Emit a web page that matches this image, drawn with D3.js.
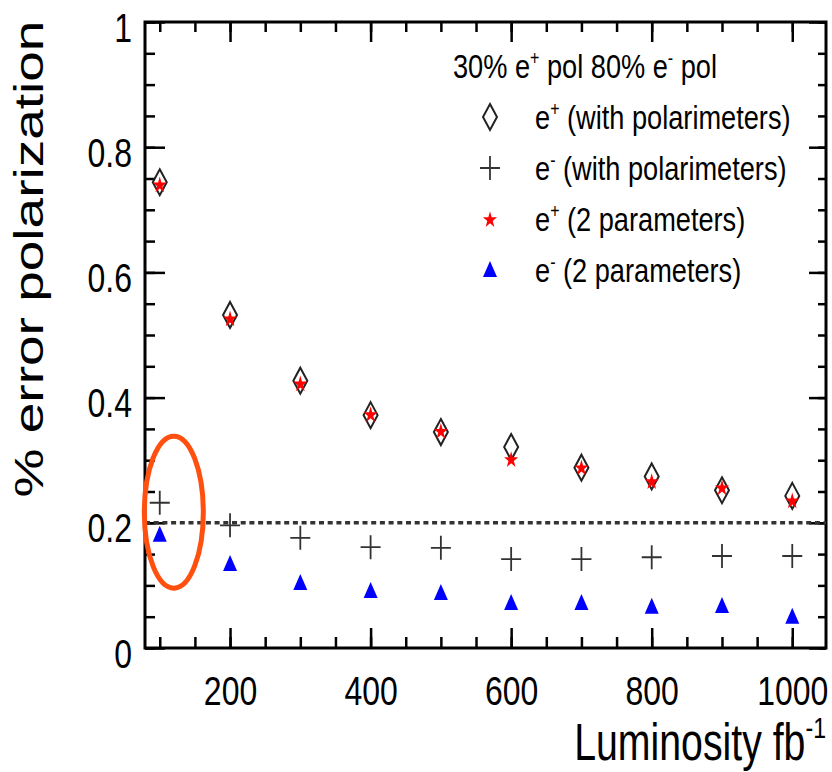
<!DOCTYPE html>
<html>
<head>
<meta charset="utf-8">
<script src="https://cdn.jsdelivr.net/npm/d3@7"></script>
<style>
  body { margin: 0; background: #fff; }
  text { font-family: "Liberation Sans", Arial, sans-serif; fill: #000; }
</style>
</head>
<body>
<div id="chart"></div>
<script>
// luminosity points (fb^-1)
var lumi = [100, 200, 300, 400, 500, 600, 700, 800, 900, 1000];
// % error on polarization
var ePosPolarim = [0.744, 0.532, 0.427, 0.372, 0.345, 0.321, 0.288, 0.274, 0.252, 0.243];
var eNegPolarim = [0.232, 0.196, 0.176, 0.161, 0.160, 0.142, 0.142, 0.145, 0.147, 0.147];
var ePos2Par = [0.741, 0.527, 0.423, 0.374, 0.347, 0.302, 0.289, 0.267, 0.257, 0.236];
var eNeg2Par = [0.181, 0.134, 0.104, 0.091, 0.088, 0.072, 0.072, 0.066, 0.067, 0.050];

var xTicks = [200, 400, 600, 800, 1000];
var yTicks = [0, 0.2, 0.4, 0.6, 0.8, 1];
var refLine = 0.2;

var W = 832, H = 772;
var box = {left: 145, right: 826, top: 22, bottom: 648};

var svg = d3.select("#chart").append("svg")
    .attr("width", W)
    .attr("height", H);

svg.append("rect").attr("width", W).attr("height", H).attr("fill", "#fff");

var x = d3.scaleLinear().domain([79, 1048]).range([box.left, box.right]);
var y = d3.scaleLinear().domain([0, 1]).range([box.bottom, box.top]);

// ticks on all four sides, pointing inwards
function styleTicks(g) {
    g.select(".domain").remove();
    g.selectAll("line").attr("stroke", "#000").attr("stroke-width", 2.5);
}

svg.append("g").attr("transform", "translate(0," + box.bottom + ")")
    .call(d3.axisBottom(x).tickValues(x.ticks(20)).tickSize(-11).tickFormat(""))
    .call(styleTicks);
var gxMajor = svg.append("g").attr("transform", "translate(0," + box.bottom + ")")
    .call(d3.axisBottom(x).tickValues(xTicks).tickSize(-20).tickFormat(d3.format("d")))
    .call(styleTicks);
gxMajor.selectAll("text")
    .attr("y", 0).attr("dy", 0)
    .attr("font-size", 41)
    .attr("transform", "translate(0,57) scale(0.78,1)");

svg.append("g").attr("transform", "translate(0," + box.top + ")")
    .call(d3.axisTop(x).tickValues(x.ticks(20)).tickSize(-10).tickFormat(""))
    .call(styleTicks);
svg.append("g").attr("transform", "translate(0," + box.top + ")")
    .call(d3.axisTop(x).tickValues(xTicks).tickSize(-20).tickFormat(""))
    .call(styleTicks);

svg.append("g").attr("transform", "translate(" + box.left + ",0)")
    .call(d3.axisLeft(y).tickValues(y.ticks(20)).tickSize(-10).tickFormat(""))
    .call(styleTicks);
var gyMajor = svg.append("g").attr("transform", "translate(" + box.left + ",0)")
    .call(d3.axisLeft(y).tickValues(yTicks).tickSize(-20).tickFormat(function (d) { return String(d); }))
    .call(styleTicks);
gyMajor.selectAll("text")
    .attr("x", 0).attr("dy", 0)
    .attr("font-size", 41)
    .attr("text-anchor", "end")
    .attr("transform", "translate(-13,19) scale(0.78,1)");

svg.append("g").attr("transform", "translate(" + box.right + ",0)")
    .call(d3.axisRight(y).tickValues(y.ticks(20)).tickSize(-8).tickFormat(""))
    .call(styleTicks);
svg.append("g").attr("transform", "translate(" + box.right + ",0)")
    .call(d3.axisRight(y).tickValues(yTicks).tickSize(-17).tickFormat(""))
    .call(styleTicks);

// frame
svg.append("rect")
    .attr("x", box.left).attr("y", box.top)
    .attr("width", box.right - box.left).attr("height", box.bottom - box.top)
    .attr("fill", "none").attr("stroke", "#000").attr("stroke-width", 3);

// dotted reference line
svg.append("line")
    .attr("x1", box.left).attr("x2", box.right)
    .attr("y1", y(refLine)).attr("y2", y(refLine))
    .attr("stroke", "#333").attr("stroke-width", 3.5)
    .attr("stroke-dasharray", "5,3.7");

// marker shapes
var diamondPath = "M0,-13L7,0L0,13L-7,0Z";
var plusPath = "M-10,0H10M0,-12V12";
var starPath = d3.symbol().type(d3.symbolStar).size(85)();
var triPath = "M0,-9L7,7L-7,7Z";

function drawDiamond(g, cx, cy) {
    g.append("path").attr("d", diamondPath)
        .attr("transform", "translate(" + cx + "," + cy + ")")
        .attr("fill", "none").attr("stroke", "#222").attr("stroke-width", 2);
}
function drawPlus(g, cx, cy) {
    g.append("path").attr("d", plusPath)
        .attr("transform", "translate(" + cx + "," + cy + ")")
        .attr("fill", "none").attr("stroke", "#333").attr("stroke-width", 1.8);
}
function drawStar(g, cx, cy) {
    g.append("path").attr("d", starPath)
        .attr("transform", "translate(" + cx + "," + (cy + 1) + ") scale(0.85,1)")
        .attr("fill", "#ff0000");
}
function drawTri(g, cx, cy) {
    g.append("path").attr("d", triPath)
        .attr("transform", "translate(" + cx + "," + cy + ")")
        .attr("fill", "#0000ff");
}

var pts = svg.append("g");
lumi.forEach(function (l, i) {
    drawDiamond(pts, x(l), y(ePosPolarim[i]));
    drawStar(pts, x(l), y(ePos2Par[i]));
    drawPlus(pts, x(l), y(eNegPolarim[i]));
    drawTri(pts, x(l), y(eNeg2Par[i]));
});

// highlight ellipse round the first points
svg.append("ellipse")
    .attr("cx", x(120)).attr("cy", y(0.217))
    .attr("rx", 29.5).attr("ry", 76)
    .attr("fill", "none").attr("stroke", "#ff5010").attr("stroke-width", 5);

// legend
var leg = svg.append("g");
var title = leg.append("text")
    .attr("font-size", 34)
    .attr("transform", "translate(453,78) scale(0.8,1)");
title.append("tspan").text("30% e");
title.append("tspan").attr("dy", -13).attr("font-size", 20).text("+");
title.append("tspan").attr("dy", 13).text(" pol 80% e");
title.append("tspan").attr("dy", -13).attr("font-size", 20).text("-");
title.append("tspan").attr("dy", 13).text(" pol");

var legRows = [
    {sup: "+", label: " (with polarimeters)", draw: drawDiamond},
    {sup: "-", label: " (with polarimeters)", draw: drawPlus},
    {sup: "+", label: " (2 parameters)", draw: drawStar},
    {sup: "-", label: " (2 parameters)", draw: drawTri}
];
legRows.forEach(function (r, i) {
    var cy = 117 + i * 51;
    r.draw(leg, 490, cy);
    var t = leg.append("text")
        .attr("font-size", 34)
        .attr("transform", "translate(535," + (cy + 12) + ") scale(0.8,1)");
    t.append("tspan").text("e");
    t.append("tspan").attr("dy", -13).attr("font-size", 20).text(r.sup);
    t.append("tspan").attr("dy", 13).text(r.label);
});

// axis titles
var xt = svg.append("text")
    .attr("font-size", 51)
    .attr("text-anchor", "end")
    .attr("transform", "translate(826,760) scale(0.77,1)");
xt.append("tspan").text("Luminosity fb");
xt.append("tspan").attr("dy", -22).attr("font-size", 30).text("-1");

svg.append("text")
    .attr("font-size", 55)
    .attr("text-anchor", "middle")
    .attr("transform", "translate(43,259) rotate(-90) scale(1,0.75)")
    .text("% error polarization");
</script>
</body>
</html>
